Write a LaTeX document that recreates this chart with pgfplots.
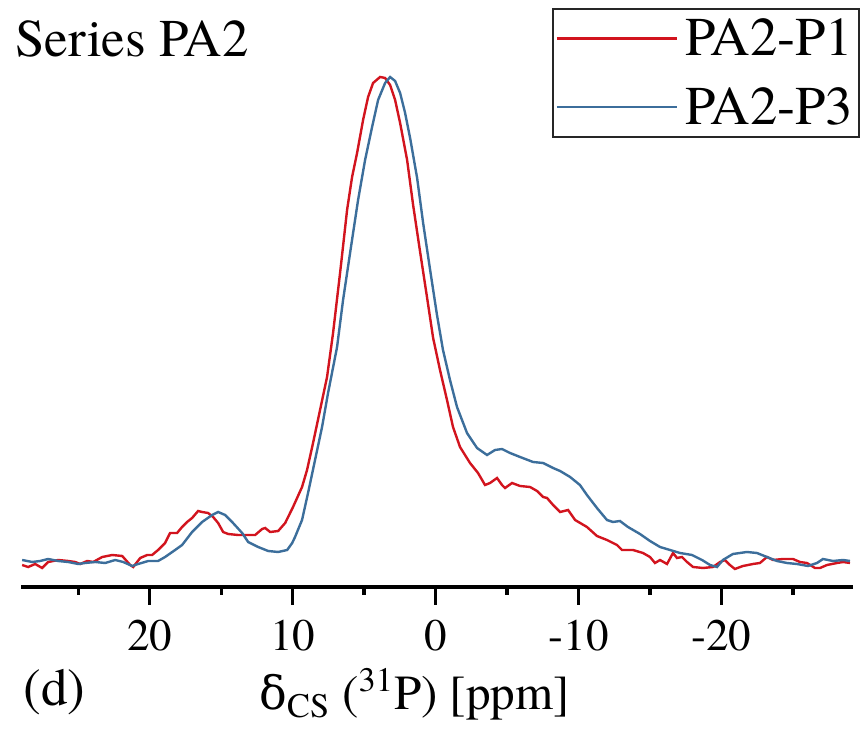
\documentclass[border=0pt]{standalone}
\usepackage{fontspec}
\setmainfont{texgyretermes}[Extension=.otf, UprightFont=*-regular, BoldFont=*-bold, ItalicFont=*-italic, BoldItalicFont=*-bolditalic]
\newfontfamily\greekfont{DejaVu Serif}
\usepackage{pgfplots}
\pgfplotsset{compat=1.18}
\definecolor{cred}{RGB}{210,20,30}
\definecolor{cblue}{RGB}{60,110,155}
\begin{document}
\begin{tikzpicture}
\useasboundingbox (-10.5pt,-73pt) rectangle (421pt,293.5pt);
\begin{axis}[
 scale only axis, width=416pt, height=293.5pt,
 x dir=reverse, xmin=-29.2, xmax=29.0, ymin=0, ymax=587,
 axis x line*=bottom, axis y line=none,
 axis line style={line width=2pt, -},
 xtick={-20,-10,0,10,20}, minor xtick={-25,-15,-5,5,15,25},
 tick align=outside,
 major tick length=9pt, minor tick length=4pt,
 every tick/.style={black, line width=1.6pt},
 xticklabel style={font=\fontsize{22.5}{24}\selectfont, yshift=-4pt},
 /pgf/number format/assume math mode=true,
 xlabel={{\greekfont\fontsize{23}{28}\selectfont δ}\textsubscript{CS} (\textsuperscript{31}P) [ppm]},
 xlabel style={font=\fontsize{24.5}{30}\selectfont, at={(rel axis cs:0.473,0)}, anchor=base, yshift=-61.5pt},
 clip=false,
 legend style={at={(rel axis cs:1,1)}, anchor=north east, xshift=3.5pt, yshift=-4pt,
   draw=black!85, line width=0.8pt, font=\fontsize{27.3}{30}\selectfont,
   inner xsep=1.5pt, inner ysep=1.8pt, row sep=8.5pt,
   nodes={inner xsep=1.5pt, inner ysep=3pt}, cells={anchor=west},
   /tikz/every odd column/.append style={column sep=2pt}},
 legend image code/.code={\draw[#1, line width=1.2pt] (0pt,0pt) -- (60pt,0pt);},
]
\addplot[cred, line width=1.2pt] coordinates {
(28.92,22)(28.50,20)(28.01,23)(27.52,19)(27.10,25)(26.40,27)(25.70,26)(25.21,25)(24.86,23)(24.37,26)
(23.95,25)(23.32,30)(22.62,32)(21.92,31)(21.36,22)(21.15,20)(20.66,29)(20.17,32)(19.83,32)(19.41,37)
(18.92,44)(18.57,54)(18.08,54)(17.73,60)(17.38,65)(17.03,69)(16.61,76)(16.33,75)(15.91,74)(15.56,70)
(15.21,64)(14.86,55)(14.51,53)(13.81,52)(13.11,52)(12.62,52)(12.13,58)(11.92,59)(11.57,55)(11.01,56)
(10.52,64)(9.97,80)(9.34,100)(8.99,117)(8.57,144)(8.08,177)(7.59,210)(7.17,254)(6.68,314)(6.19,377)
(5.84,410)(5.49,434)(5.07,467)(4.72,490)(4.37,504)(3.88,510)(3.53,509)(3.18,502)(2.83,487)(2.48,464)
(1.99,427)(1.57,382)(1.08,335)(0.59,289)(0.17,249)(-0.31,217)(-0.80,187)(-1.22,160)(-1.71,140)(-2.41,124)
(-2.97,114)(-3.46,102)(-3.81,104)(-4.30,109)(-4.65,102)(-4.86,99)(-5.35,104)(-5.91,101)(-6.61,100)(-7.10,96)
(-7.52,90)(-7.80,89)(-8.22,82)(-8.71,75)(-9.27,77)(-9.76,67)(-10.59,60)(-11.29,51)(-11.99,47)(-12.69,42)
(-13.04,37)(-13.81,37)(-14.51,34)(-15.00,30)(-15.35,24)(-15.70,27)(-16.19,23)(-16.61,34)(-16.89,29)(-17.24,30)
(-17.59,25)(-18.01,20)(-18.71,19)(-19.41,20)(-19.90,25)(-20.24,27)(-20.59,22)(-20.94,18)(-21.50,21)(-22.20,23)
(-22.69,24)(-23.18,30)(-23.60,27)(-24.30,28)(-25.00,28)(-25.49,25)(-25.98,24)(-26.54,19)(-26.89,19)(-27.38,22)
(-28.08,24)(-28.50,25)(-28.99,24)
};
\addlegendentry{PA2-P1}
\addplot[cblue, line width=1.2pt] coordinates {
(28.92,27)(28.22,25)(27.66,26)(27.10,28)(26.40,26)(25.70,25)(25.00,23)(24.51,24)(23.81,25)(23.11,24)
(22.41,27)(21.85,25)(21.22,21)(20.80,23)(20.10,26)(19.41,26)(18.92,30)(18.22,37)(17.73,42)(17.03,55)
(16.33,65)(15.63,72)(15.21,75)(14.72,72)(14.23,65)(13.53,54)(13.11,45)(12.41,40)(11.71,36)(11.01,35)
(10.38,37)(10.03,44)(9.83,50)(9.34,67)(8.92,94)(8.43,127)(7.94,160)(7.52,194)(6.89,240)(6.47,287)
(5.98,334)(5.42,387)(4.93,427)(4.44,460)(4.02,487)(3.53,504)(3.18,510)(2.83,506)(2.48,494)(2.13,474)
(1.78,449)(1.29,409)(0.87,364)(0.38,317)(-0.10,272)(-0.52,237)(-1.01,207)(-1.50,180)(-2.20,154)(-2.90,139)
(-3.60,132)(-4.16,137)(-4.65,138)(-5.21,134)(-5.91,130)(-6.82,125)(-7.52,124)(-8.22,119)(-8.71,116)(-9.41,110)
(-10.10,102)(-10.59,92)(-11.29,79)(-11.99,67)(-12.41,65)(-12.90,66)(-13.46,60)(-14.30,53)(-15.00,46)(-15.70,40)
(-16.40,37)(-17.10,34)(-17.94,32)(-18.64,27)(-19.20,22)(-19.69,20)(-20.10,27)(-20.80,33)(-21.78,35)(-22.48,34)
(-23.18,30)(-23.88,26)(-24.58,24)(-25.28,23)(-26.05,21)(-26.68,24)(-27.10,28)(-27.80,26)(-28.50,27)(-28.99,26)
};
\addlegendentry{PA2-P3}
\node[anchor=base west, inner sep=0pt, font=\fontsize{26.5}{30}\selectfont, xshift=-3pt, yshift=-28.5pt] at (rel axis cs:0,1) {Series PA2};
\node[anchor=base west, inner sep=0pt, font=\fontsize{26.5}{30}\selectfont, xshift=1pt, yshift=-59.5pt] at (rel axis cs:0,0) {(d)};
\end{axis}
\end{tikzpicture}
\end{document}
